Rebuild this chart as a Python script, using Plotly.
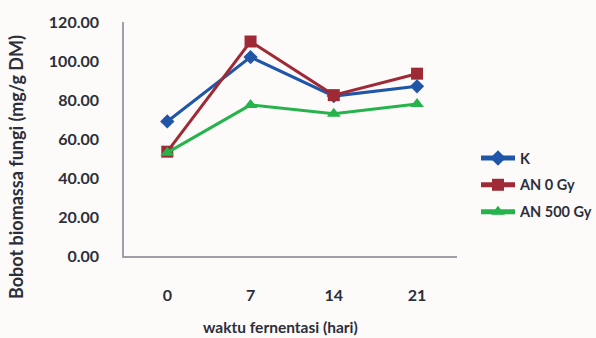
import plotly.graph_objects as go

# Fermentation time (days) and fungal biomass (mg/g DM)
days = ["0", "7", "14", "21"]
k_vals = [69.0, 102.0, 82.0, 87.0]
an0_vals = [53.5, 110.0, 82.5, 93.5]
an500_vals = [53.0, 77.5, 73.0, 78.0]
y_ticks = [0, 20, 40, 60, 80, 100, 120]
y_tick_text = ["0.00", "20.00", "40.00", "60.00", "80.00", "100.00", "120.00"]

font_family = "Lato, Open Sans, sans-serif"
text_color = "#2b2f3a"

series = [
    ("K", k_vals, "#1f56a8", "diamond", 11),
    ("AN 0 Gy", an0_vals, "#9e2a36", "square", 12),
    ("AN 500 Gy", an500_vals, "#27b34b", "triangle-up", 12),
]

fig = go.Figure()
for name, vals, color, symbol, size in series:
    fig.add_trace(go.Scatter(
        x=days, y=vals, name=name, mode="lines+markers",
        legendgroup=name,
        line=dict(color=color, width=3),
        marker=dict(symbol=symbol, size=size, color=color),
    ))

# plot area spans x 124..457 px, y 22..256 px
L, R, T, B = 124, 457, 22, 256
W, H = R - L, B - T

fig.update_layout(
    width=596, height=338,
    margin=dict(l=L, r=596 - R, t=T, b=338 - B, autoexpand=False),
    paper_bgcolor="#fdfafa",
    plot_bgcolor="#fdfafa",
    font=dict(family=font_family, size=14, color=text_color),
    showlegend=True,
    legend=dict(
        x=(476 - L) / W, y=(B - 142) / H, xanchor="left", yanchor="top",
        font=dict(family=font_family, size=14.5, color=text_color, weight="bold"),
        tracegroupgap=5, itemwidth=34, itemsizing="constant",
        bgcolor="rgba(0,0,0,0)",
    ),
    xaxis=dict(
        range=[-0.52, 3.48],
        showgrid=False, showline=True, linecolor="#a0a0a8", linewidth=1.5,
        ticks="", ticklabelstandoff=24,
        tickfont=dict(family=font_family, size=16, color=text_color, weight="bold"),
    ),
    yaxis=dict(
        range=[0, 120], tickvals=y_ticks, ticktext=y_tick_text,
        showgrid=False, showline=True, linecolor="#a0a0a8", linewidth=1.5,
        ticks="", ticklabelstandoff=20, zeroline=False,
        tickfont=dict(family=font_family, size=16, color=text_color, weight="bold"),
    ),
)
fig.add_annotation(
    text="waktu fernentasi (hari)", xref="paper", yref="paper",
    x=(280 - L) / W, y=(B - 327) / H, xanchor="center", yanchor="middle",
    showarrow=False,
    font=dict(family=font_family, size=15.5, color=text_color, weight="bold"),
)
fig.add_annotation(
    text="Bobot biomassa fungi (mg/g DM)", xref="paper", yref="paper",
    x=(16 - L) / W, y=(B - 167) / H, textangle=-90,
    xanchor="center", yanchor="middle", showarrow=False,
    font=dict(family=font_family, size=18, color=text_color, weight="bold"),
)

fig.write_html("out.html")
